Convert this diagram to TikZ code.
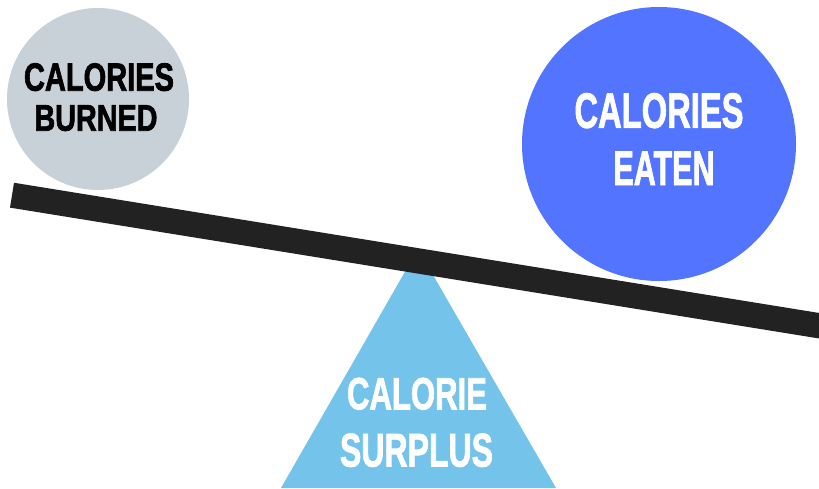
\documentclass[tikz,border=0pt]{standalone}
\usepackage{fontspec}
\usepackage{graphicx}
\setmainfont{Liberation Sans}
\newfontfamily\heavyfont[FakeBold=2]{Liberation Sans Bold}
\definecolor{burngray}{RGB}{200,208,216}
\definecolor{eatblue}{RGB}{82,116,255}
\definecolor{surplusblue}{RGB}{116,195,234}
\definecolor{beamblack}{RGB}{34,34,34}
\newcommand{\fitline}[3]{\resizebox{#1pt}{#2pt}{\heavyfont #3}}
\tikzset{
  disc/.style={circle, inner sep=0pt, outer sep=0pt},
  word/.style={anchor=base, inner sep=0pt, outer sep=0pt},
  beamline/.style={draw=beamblack, line width=25.2pt, line cap=butt},
}
\begin{document}
\begin{tikzpicture}[x=1pt, y=-1pt]
\useasboundingbox (0,0) rectangle (819,488);
% fulcrum
\coordinate (tl) at (281,488);
\coordinate (tapex) at (418,249);
\coordinate (tr) at (556,488);
\fill[surplusblue] (tl) -- (tapex) -- (tr) -- cycle;
% beam
\coordinate (bl) at (12,195.2);
\coordinate (br) at (840,329.1);
\draw[beamline] (bl) -- (br);
% circles
\node[disc, fill=burngray, minimum size=182pt] (burned) at (98,99) {};
\node[disc, fill=eatblue, minimum size=274pt] (eaten) at (659,144) {};
% texts
\node[word, text=black] (b1) at (99,90.7) {\fitline{150}{27.5}{CALORIES}};
\node[word, text=black] (b2) at (96,130.7) {\fitline{123}{25.5}{BURNED}};
\node[word, text=white] (e1) at (659,127.7) {\fitline{169}{34.5}{CALORIES}};
\node[word, text=white] (e2) at (664,185) {\fitline{101}{33.3}{EATEN}};
\node[word, text=white] (s1) at (417,409.3) {\fitline{140}{31.5}{CALORIE}};
\node[word, text=white] (s2) at (416.5,466.5) {\fitline{153}{33}{SURPLUS}};
\end{tikzpicture}
\end{document}
